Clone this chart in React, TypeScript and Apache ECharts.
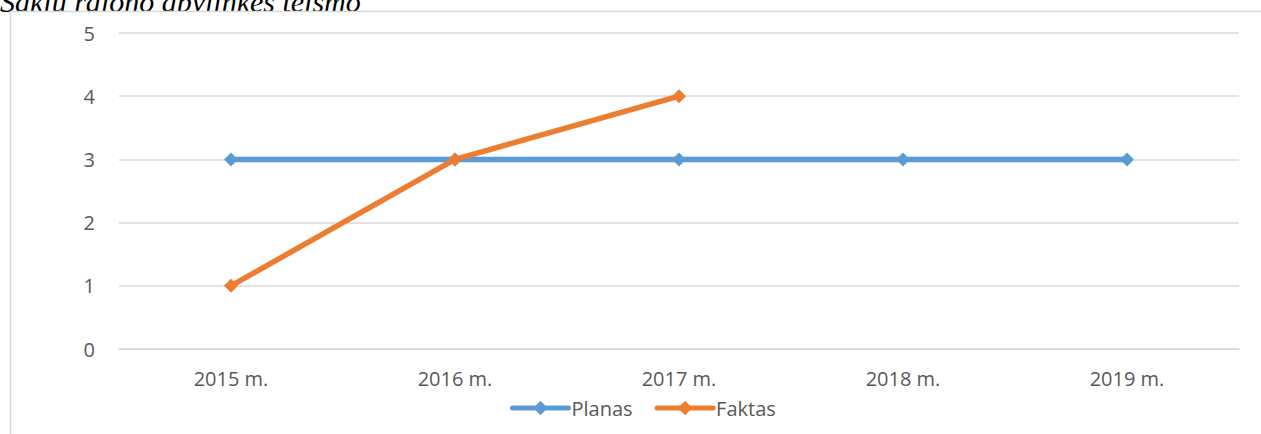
import React, { useEffect, useRef } from "react";
import * as echarts from "echarts";

const categories = ["2015 m.", "2016 m.", "2017 m.", "2018 m.", "2019 m."];
const planas = [3, 3, 3, 3, 3];
const faktas: (number | null)[] = [1, 3, 4, null, null];
const titleText = "Šakių rajono apylinkės teismo";

export default function App() {
  const ref = useRef<HTMLDivElement>(null);
  useEffect(() => {
    if (!ref.current) return;
    const chart = echarts.init(ref.current, undefined, { renderer: "svg" });
    const font = "'Open Sans', sans-serif";
    chart.setOption({
      animation: false,
      backgroundColor: "#ffffff",
      textStyle: { fontFamily: font },
      graphic: [
        {
          type: "text",
          x: 0,
          y: 16,
          z: -10,
          style: {
            text: titleText,
            font: "italic 30px 'Liberation Serif', serif",
            fill: "#000000",
            verticalAlign: "bottom",
            align: "left",
          },
        },
        {
          type: "rect",
          shape: { x: 10.5, y: 11.5, width: 1260, height: 440 },
          style: { fill: "#ffffff", stroke: "#d9d9d9", lineWidth: 1.5 },
          z: -5,
        },
      ],
      grid: { left: 119, right: 22, top: 33, bottom: 85, containLabel: false },
      legend: {
        top: 393,
        left: 505,
        itemWidth: 56,
        itemHeight: 18,
        itemGap: 22,
        lineStyle: { width: 5 },
        textStyle: { color: "#595959", fontSize: 20, fontFamily: font, padding: [0, 0, 0, -2] },
        data: ["Planas", "Faktas"],
      },
      xAxis: {
        type: "category",
        data: categories,
        boundaryGap: true,
        axisLine: { show: true, lineStyle: { color: "#d9d9d9", width: 1.5 } },
        axisTick: { show: false },
        axisLabel: { color: "#595959", fontSize: 20, margin: 19, fontFamily: font },
      },
      yAxis: {
        type: "value",
        min: 0,
        max: 5,
        interval: 1,
        axisLine: { show: false },
        axisTick: { show: false },
        axisLabel: { color: "#595959", fontSize: 20, margin: 24, fontFamily: font },
        splitLine: { lineStyle: { color: "#d9d9d9", width: 1.5 } },
      },
      series: [
        {
          name: "Planas",
          type: "line",
          data: planas,
          symbol: "diamond",
          symbolSize: 14,
          lineStyle: { color: "#5B9BD5", width: 5.5, cap: "round" },
          itemStyle: { color: "#5B9BD5" },
        },
        {
          name: "Faktas",
          type: "line",
          data: faktas,
          symbol: "diamond",
          symbolSize: 14,
          lineStyle: { color: "#ED7D31", width: 5.5, cap: "round" },
          itemStyle: { color: "#ED7D31" },
        },
      ],
    });
    return () => chart.dispose();
  }, []);
  return (
    <div
      ref={ref}
      style={{ position: "fixed", left: 0, top: 0, width: 1261, height: 434 }}
    />
  );
}
